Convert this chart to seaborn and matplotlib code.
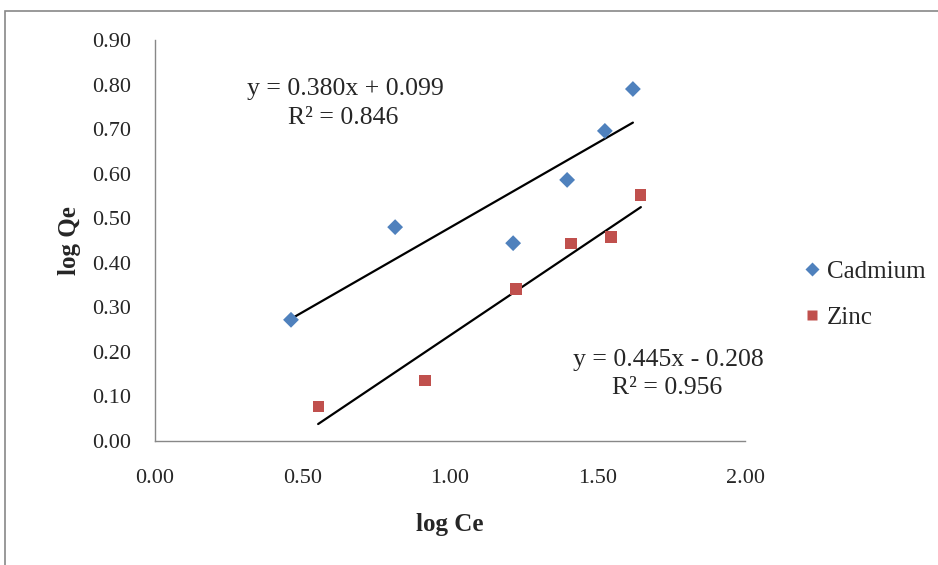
import numpy as np
import pandas as pd
import matplotlib
matplotlib.use("Agg")
import matplotlib.pyplot as plt
import seaborn as sns

# Data
cd_logce = [0.461, 0.814, 1.214, 1.397, 1.525, 1.620]
cd_logqe = [0.272, 0.480, 0.444, 0.586, 0.696, 0.790]
zn_logce = [0.553, 0.915, 1.224, 1.410, 1.546, 1.647]
zn_logqe = [0.078, 0.135, 0.341, 0.444, 0.458, 0.552]
series_names = ["Cadmium", "Zinc"]
fit_slopes = [0.380, 0.445]
fit_intercepts = [0.099, -0.208]
fit_eqs = ["y = 0.380x + 0.099", "y = 0.445x - 0.208"]
fit_r2 = ["R² = 0.846", "R² = 0.956"]
x_ticks = [0.00, 0.50, 1.00, 1.50, 2.00]
y_ticks = [0.00, 0.10, 0.20, 0.30, 0.40, 0.50, 0.60, 0.70, 0.80, 0.90]

sns.set_theme(style="white")
plt.rcParams["font.family"] = ["Liberation Serif", "DejaVu Serif"]

df = pd.DataFrame({
    "log Ce": cd_logce + zn_logce,
    "log Qe": cd_logqe + zn_logqe,
    "metal": [series_names[0]] * len(cd_logce) + [series_names[1]] * len(zn_logce),
})

fig = plt.figure(figsize=(9.38, 5.65), dpi=100)
ax = fig.add_axes([155 / 938, 1 - 441 / 565, 590 / 938, 401 / 565])

# outer chart frame
fig.patches.append(plt.Rectangle((5 / 938, -0.05), 1.2, (565 - 11) / 565 + 0.05,
                                 transform=fig.transFigure, fill=False,
                                 edgecolor="#888888", linewidth=1.2))

palette = {"Cadmium": "#4F81BD", "Zinc": "#C0504D"}
sns.scatterplot(data=df, x="log Ce", y="log Qe", hue="metal", style="metal",
                markers={"Cadmium": "D", "Zinc": "s"}, palette=palette,
                s=65, edgecolor="none", ax=ax, legend=True, zorder=3)

# trendlines over each series' data range
for xs, m, b in [(cd_logce, fit_slopes[0], fit_intercepts[0]),
                 (zn_logce, fit_slopes[1], fit_intercepts[1])]:
    xl = np.array([min(xs), max(xs)])
    sns.lineplot(x=xl, y=m * xl + b, color="black", linewidth=1.6, ax=ax, zorder=2)

ax.text(0.312, 0.790, fit_eqs[0], fontsize=18.5, ha="left", va="center")
ax.text(0.451, 0.725, fit_r2[0], fontsize=18.5, ha="left", va="center")
ax.text(1.417, 0.182, fit_eqs[1], fontsize=18.5, ha="left", va="center")
ax.text(1.549, 0.119, fit_r2[1], fontsize=18.5, ha="left", va="center")

ax.set_xlim(0, 2.0)
ax.set_ylim(0, 0.90)
ax.set_xticks(x_ticks)
ax.set_yticks(y_ticks)
ax.set_xticklabels([f"{v:.2f}" for v in x_ticks], fontsize=16)
ax.set_yticklabels([f"{v:.2f}" for v in y_ticks], fontsize=16)
ax.tick_params(axis="both", direction="out", length=6, width=1, color="#888888", pad=11)
ax.tick_params(axis="x", pad=14)
for side in ["top", "right"]:
    ax.spines[side].set_visible(False)
for side in ["left", "bottom"]:
    ax.spines[side].set_color("#888888")
    ax.spines[side].set_linewidth(1)

ax.set_xlabel("log Ce", fontsize=18, fontweight="bold", labelpad=18)
ax.set_ylabel("log Qe", fontsize=18, fontweight="bold", labelpad=8)

handles, labels = ax.get_legend_handles_labels()
ax.legend(handles, labels, loc="center left", bbox_to_anchor=(1.10, 0.365),
          frameon=False, fontsize=18, handlelength=0.6, handletextpad=0.3,
          labelspacing=0.95, markerscale=0.9, borderaxespad=0, borderpad=0)

fig.savefig("out.png", dpi=100, facecolor="white")
